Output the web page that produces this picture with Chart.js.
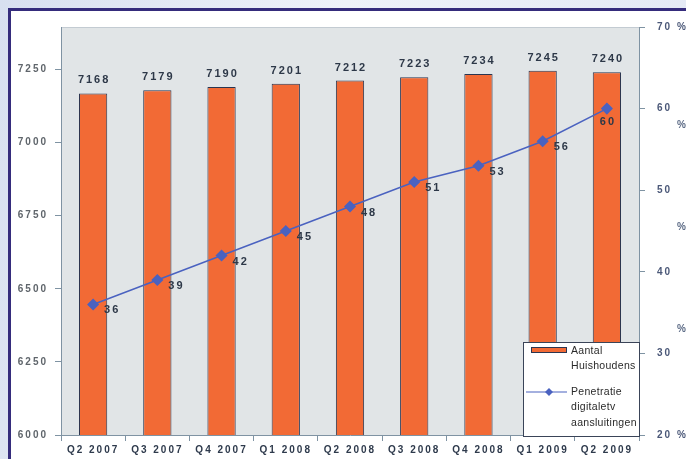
<!DOCTYPE html>
<html><head><meta charset="utf-8">
<script src="https://cdn.jsdelivr.net/npm/chart.js@4.4.1/dist/chart.umd.min.js"></script>
<style>
html,body{margin:0;padding:0;width:686px;height:459px;overflow:hidden;}
body{background:linear-gradient(100deg,#d8e0f0 0%,#eef2f9 45%,#e2e8f4 100%);position:relative;}
#panel{position:absolute;left:8px;top:8px;width:700px;height:470px;background:#fff;border-left:3px solid #352c7c;border-top:3px solid #352c7c;}
#wrap{position:absolute;left:0;top:0;width:686px;height:459px;}
</style></head>
<body><div id="panel"></div><div id="wrap"><canvas id="c" width="686" height="459"></canvas></div>
<script>
const categories = ["Q2 2007","Q3 2007","Q4 2007","Q1 2008","Q2 2008","Q3 2008","Q4 2008","Q1 2009","Q2 2009"];
const households = [7168,7179,7190,7201,7212,7223,7234,7245,7240];
const penetration = [36,39,42,45,48,51,53,56,60];
const legendBar = ["Aantal","Huishoudens"];
const legendLine = ["Penetratie","digitaletv","aansluitingen"];
const leftMin = 6000, leftMax = 7395, leftStep = 250;
const rightMin = 20, rightMax = 70, rightStep = 10;
const strayPercentValues = [58, 45.5, 33];

const axisColor = '#7f93a3';

const bgPlugin = {
  id:'bg',
  beforeUpdate(chart){ chart.ctx.letterSpacing = '2px'; },
  beforeDraw(chart){
    const {ctx, chartArea:a} = chart;
    ctx.save();
    ctx.fillStyle = '#e1e5e7';
    ctx.fillRect(a.left, a.top, a.right-a.left, a.bottom-a.top);
    ctx.strokeStyle = '#c3cbd2';
    ctx.lineWidth = 1;
    ctx.beginPath();
    ctx.moveTo(a.left, a.top+0.5); ctx.lineTo(a.right, a.top+0.5);
    ctx.stroke();
    ctx.restore();
  }
};

const labelPlugin = {
  id:'labels',
  afterDatasetsDraw(chart){
    const ctx = chart.ctx;
    ctx.save();
    ctx.font = 'bold 11px Arial, "Liberation Sans"';
    ctx.fillStyle = '#2d3848';
    ctx.letterSpacing = '2px';
    ctx.textAlign = 'center';
    ctx.textBaseline = 'alphabetic';
    const barMeta = chart.getDatasetMeta(1);
    barMeta.data.forEach((el,i)=>{
      ctx.fillText(String(households[i]), el.x+1, el.y-10);
    });
    const lineMeta = chart.getDatasetMeta(0);
    ctx.textBaseline = 'middle';
    lineMeta.data.forEach((el,i)=>{
      if(i === penetration.length-1){
        ctx.textAlign = 'center';
        ctx.fillText(String(penetration[i]), el.x+1, el.y+13);
      } else {
        ctx.textAlign = 'left';
        ctx.fillText(String(penetration[i]), el.x+11, el.y+6);
      }
    });
    ctx.restore();
  },
  afterDraw(chart){
    const {ctx, chartArea:a} = chart;
    ctx.save();
    const w = 117, h = 95;
    const x0 = a.right - w + 1, y0 = a.bottom - h + 2;
    ctx.fillStyle = '#ffffff';
    ctx.fillRect(x0, y0, w, h);
    ctx.strokeStyle = '#3a4458';
    ctx.lineWidth = 1;
    ctx.strokeRect(x0+0.5, y0+0.5, w-1, h-1);
    ctx.fillStyle = '#f26a35';
    ctx.fillRect(x0+8, y0+5, 36, 6);
    ctx.strokeStyle = '#2a3550';
    ctx.strokeRect(x0+8.5, y0+5.5, 35, 5);
    ctx.font = '10.5px Arial, "Liberation Sans"';
    ctx.letterSpacing = '0.3px';
    ctx.fillStyle = '#2a2a2a';
    ctx.textAlign = 'left';
    ctx.textBaseline = 'middle';
    legendBar.forEach((t,i)=>ctx.fillText(t, x0+48, y0+9+i*15));
    const ly = y0+50;
    ctx.strokeStyle = '#4a62c0';
    ctx.lineWidth = 1.2;
    ctx.beginPath(); ctx.moveTo(x0+3, ly); ctx.lineTo(x0+44, ly); ctx.stroke();
    ctx.fillStyle = '#4a62c0';
    ctx.beginPath();
    ctx.moveTo(x0+26, ly-4); ctx.lineTo(x0+30, ly); ctx.lineTo(x0+26, ly+4); ctx.lineTo(x0+22, ly); ctx.closePath(); ctx.fill();
    ctx.fillStyle = '#2a2a2a';
    legendLine.forEach((t,i)=>ctx.fillText(t, x0+48, ly+i*15.5));
    const yr = chart.scales.y1;
    ctx.font = 'bold 10px Arial, "Liberation Sans"';
    ctx.fillStyle = '#5b6a85';
    ctx.letterSpacing = '0px';
    strayPercentValues.forEach(v=>ctx.fillText('%', a.right+38, yr.getPixelForValue(v)));
    ctx.restore();
  }
};

new Chart(document.getElementById('c'), {
  data:{
    labels: categories,
    datasets:[
      {type:'line', label:'Penetratie digitaletv aansluitingen', data:penetration, yAxisID:'y1', order:0,
       borderColor:'#4a62c0', backgroundColor:'#4a62c0', borderWidth:1.5, pointStyle:'rectRot', pointRadius:5, pointHoverRadius:5, tension:0},
      {type:'bar', label:'Aantal Huishoudens', data:households, yAxisID:'y', order:1,
       backgroundColor:'#f26a35', borderColor:'#2a3550', borderWidth:1, barPercentage:0.44, categoryPercentage:1}
    ]
  },
  options:{
    responsive:false, animation:false,
    layout:{padding:{top:27,left:0,right:0,bottom:0}},
    plugins:{legend:{display:false}, tooltip:{enabled:false}},
    scales:{
      x:{offset:true, grid:{offset:true, drawOnChartArea:false, tickLength:6, color:axisColor},
         border:{color:axisColor},
         ticks:{font:{family:'Arial', size:10, weight:'bold'}, color:'#2e3a4c', padding:3, maxRotation:0, autoSkip:false},
         afterFit(s){s.height=24;}},
      y:{position:'left', min:leftMin, max:leftMax,
         afterBuildTicks(s){s.ticks = s.ticks.filter(t=>t.value % leftStep === 0);},
         ticks:{stepSize:leftStep, font:{family:'Arial', size:10, weight:'bold'}, color:'#5f656b', padding:7,
                callback:(v)=>String(v)},
         grid:{drawOnChartArea:false, tickLength:6, color:axisColor}, border:{color:axisColor},
         afterFit(s){s.width=61;}},
      y1:{position:'right', min:rightMin, max:rightMax,
         ticks:{stepSize:rightStep, font:{family:'Arial', size:10, weight:'bold'}, color:'#4b5878', padding:12,
                callback:(v)=> (v===rightMax||v===rightMin) ? v+' %' : String(v)},
         grid:{drawOnChartArea:false, tickLength:6, color:axisColor}, border:{color:axisColor},
         afterFit(s){s.width=47;}}
    }
  },
  plugins:[bgPlugin, labelPlugin]
});
</script>
</body></html>
